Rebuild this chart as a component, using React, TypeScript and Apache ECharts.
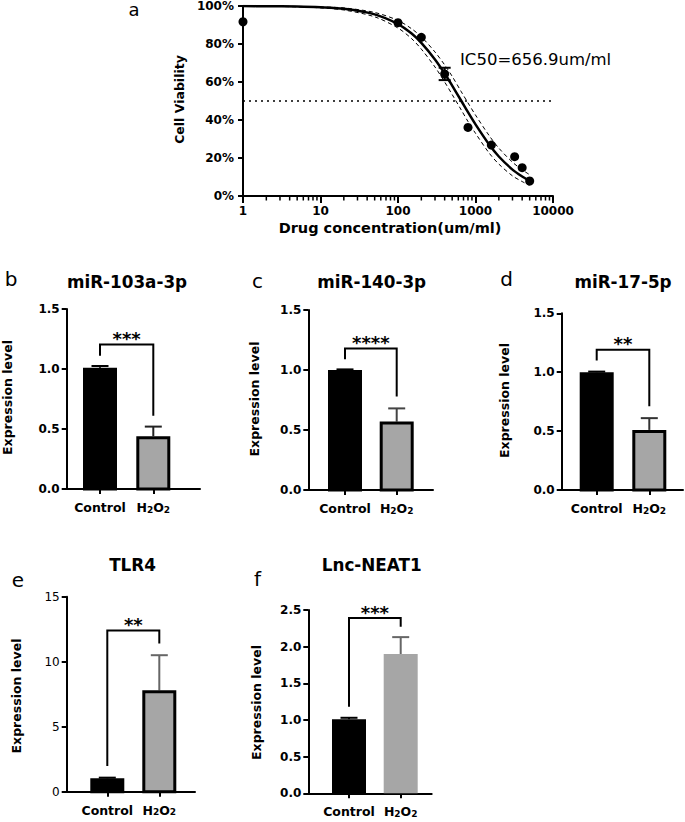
import React, { useEffect, useRef } from "react";
import * as echarts from "echarts";

const FONT = "'DejaVu Sans', 'Liberation Sans', Arial, sans-serif";

// ---------- Panel a: dose-response ----------
const doseX = [1, 100, 200, 400, 800, 1600, 3200, 4000, 5000];
const viability = [91.7, 91.2, 83.5, 64.2, 36.1, 26.8, 20.7, 14.9, 7.9];
const errDose = [400];
const errLow = [61];
const errHigh = [67.5];
const fitDose = [1, 2, 5, 10, 20, 50, 100, 150, 200, 300, 400, 500, 657, 800, 1000, 1500, 2000, 3000, 4000, 5000];
const fitViability = [99.96, 99.9, 99.7, 99.3, 98.5, 95.6, 90.5, 85.5, 80.6, 71.9, 64.5, 58.1, 50, 44.1, 37.7, 27.1, 20.8, 13.9, 10.3, 8.0];
const fitUpper = [100, 99.95, 99.8, 99.5, 99.0, 96.6, 92.4, 88.0, 83.8, 75.8, 69.0, 63.0, 54.8, 49.0, 42.6, 31.8, 25.2, 17.8, 13.8, 11.2];
const fitLower = [99.9, 99.85, 99.55, 99.0, 97.9, 94.3, 88.4, 82.8, 77.3, 67.9, 60.0, 53.4, 45.2, 39.2, 33.0, 22.6, 16.8, 10.6, 7.6, 5.6];
const minorTickDoses = [2, 3, 4, 5, 6, 7, 8, 9, 20, 30, 40, 50, 60, 70, 80, 90, 200, 300, 400, 500, 600, 700, 800, 900, 2000, 3000, 4000, 5000, 6000, 7000, 8000, 9000];
const halfViability = 50;
const ic50Label = "IC50=656.9um/ml";
const yTitleA = "Cell Viability";
const xTitleA = "Drug concentration(um/ml)";

// ---------- Bar panels ----------
const groups = ["Control", "H2O2"];
const panelLetters = ["a", "b", "c", "d", "e", "f"];
const panelTitles = ["miR-103a-3p", "miR-140-3p", "miR-17-5p", "TLR4", "Lnc-NEAT1"];
const yTitleBars = "Expression level";

const mir103Mean = [1.01, 0.44];
const mir103Err = [0.015, 0.08];
const mir140Mean = [1.0, 0.57];
const mir140Err = [0.005, 0.11];
const mir17Mean = [1.0, 0.51];
const mir17Err = [0.005, 0.1];
const tlr4Mean = [1.03, 7.8];
const tlr4Err = [0.05, 2.7];
const neat1Mean = [1.01, 1.9];
const neat1Err = [0.02, 0.23];

// significance: [bracket top, left leg bottom, right leg bottom]
const mir103Sig = [1.205, 1.11, 0.61];
const mir140Sig = [1.18, 1.09, 0.78];
const mir17Sig = [1.19, 1.1, 0.71];
const tlr4Sig = [12.4, 1.98, 11.4];
const neat1Sig = [2.39, 1.18, 2.27];
const sigStars = ["***", "****", "**", "**", "***"];

const yMaxBars = [1.5, 1.5, 1.5, 15, 2.5];
const yStepBars = [0.5, 0.5, 0.5, 5, 0.5];

const barMeans = [mir103Mean, mir140Mean, mir17Mean, tlr4Mean, neat1Mean];
const barErrs = [mir103Err, mir140Err, mir17Err, tlr4Err, neat1Err];
const barSigs = [mir103Sig, mir140Sig, mir17Sig, tlr4Sig, neat1Sig];

// ---------- layout / style (not data) ----------
const barLayout = [
  { left: 66.7, top: 309, width: 133.3, height: 180, t0: 100, t1: 153.3, h2o2Border: true, errColor: "#222", labelBold: true, yTitle: [7.5, 397.5], title: [127, 282], letter: [11, 279] },
  { left: 308.3, top: 310, width: 124.7, height: 180, t0: 345, t1: 396.7, h2o2Border: true, errColor: "#444", labelBold: true, yTitle: [254, 399], title: [371.7, 282], letter: [257.5, 281] },
  { left: 561.7, top: 313.3, width: 121.3, height: 176.7, t0: 596.7, t1: 649.3, h2o2Border: true, errColor: "#333", labelBold: true, yTitle: [504, 400.5], title: [623, 282], letter: [506.7, 279] },
  { left: 66.7, top: 596.7, width: 128.3, height: 195, t0: 107.3, t1: 159.3, h2o2Border: true, errColor: "#666", labelBold: false, yTitle: [16, 696], title: [132.5, 565], letter: [18, 579.5] },
  { left: 308.3, top: 610, width: 123.4, height: 183.3, t0: 349, t1: 400.7, h2o2Border: false, errColor: "#666", labelBold: true, yTitle: [256, 702.5], title: [371.7, 565], letter: [257.5, 579] },
];
const barFill = ["#000000", "#a6a6a6"];

function groupLabel(name: string) {
  return name
    .split("")
    .map((ch) => (/[0-9]/.test(ch) ? `{s|${ch}}` : `{n|${ch}}`))
    .join("");
}

function buildOption() {
  const grid: any[] = [{ left: 243, top: 6, width: 310, height: 190 }];
  const xAxis: any[] = [
    {
      gridIndex: 0,
      type: "log",
      logBase: 10,
      min: 1,
      max: 10000,
      axisLine: { lineStyle: { color: "#000", width: 2 } },
      axisTick: { length: 7, lineStyle: { color: "#000", width: 2 } },
      splitLine: { show: false },
      axisLabel: {
        color: "#000",
        fontFamily: FONT,
        fontWeight: "bold",
        fontSize: 12,
        margin: 9,
        formatter: (v: number) => String(Math.round(v)),
      },
    },
  ];
  const yAxis: any[] = [
    {
      gridIndex: 0,
      type: "value",
      min: 0,
      max: 100,
      interval: 20,
      axisLine: { show: true, lineStyle: { color: "#000", width: 2 } },
      axisTick: { show: true, length: 5, lineStyle: { color: "#000", width: 2 } },
      splitLine: { show: false },
      axisLabel: {
        color: "#000",
        fontFamily: FONT,
        fontWeight: "bold",
        fontSize: 12,
        margin: 9,
        formatter: "{value}%",
      },
    },
  ];
  const series: any[] = [];

  const pairs = (xs: number[], ys: number[]) => xs.map((x, i) => [x, ys[i]]);
  series.push({
    type: "line",
    xAxisIndex: 0,
    yAxisIndex: 0,
    data: pairs(fitDose, fitUpper),
    showSymbol: false,
    smooth: 0.3,
    lineStyle: { color: "#000", width: 1, type: [4, 3] },
    z: 2,
  });
  series.push({
    type: "line",
    xAxisIndex: 0,
    yAxisIndex: 0,
    data: pairs(fitDose, fitLower),
    showSymbol: false,
    smooth: 0.3,
    lineStyle: { color: "#000", width: 1, type: [4, 3] },
    z: 2,
  });
  series.push({
    type: "line",
    xAxisIndex: 0,
    yAxisIndex: 0,
    data: pairs(fitDose, fitViability),
    showSymbol: false,
    smooth: 0.3,
    lineStyle: { color: "#000", width: 2.5 },
    z: 3,
    markLine: {
      silent: true,
      symbol: "none",
      label: { show: false },
      lineStyle: { color: "#000", width: 1.5, type: [2, 4] },
      data: [{ yAxis: halfViability }],
    },
  });
  series.push({
    type: "scatter",
    xAxisIndex: 0,
    yAxisIndex: 0,
    data: pairs(doseX, viability),
    symbol: "circle",
    symbolSize: 9,
    itemStyle: { color: "#000", opacity: 1 },
    z: 4,
  });
  series.push({
    type: "custom",
    xAxisIndex: 0,
    yAxisIndex: 0,
    clip: false,
    data: errDose.map((d, i) => [d, errLow[i], errHigh[i]]),
    renderItem: (params: any, api: any) => {
      const lo = api.coord([api.value(0), api.value(1)]);
      const hi = api.coord([api.value(0), api.value(2)]);
      const st = { stroke: "#000", lineWidth: 2 };
      return {
        type: "group",
        children: [
          { type: "line", shape: { x1: lo[0], y1: lo[1], x2: hi[0], y2: hi[1] }, style: st },
          { type: "line", shape: { x1: hi[0] - 6, y1: hi[1], x2: hi[0] + 6, y2: hi[1] }, style: st },
          { type: "line", shape: { x1: lo[0] - 6, y1: lo[1], x2: lo[0] + 6, y2: lo[1] }, style: st },
        ],
      };
    },
    z: 5,
  });
  series.push({
    type: "custom",
    xAxisIndex: 0,
    yAxisIndex: 0,
    clip: false,
    data: minorTickDoses.map((d) => [d, 0]),
    renderItem: (params: any, api: any) => {
      const p = api.coord([api.value(0), api.value(1)]);
      return {
        type: "line",
        shape: { x1: p[0], y1: p[1], x2: p[0], y2: p[1] + 4.5 },
        style: { stroke: "#000", lineWidth: 1.5 },
      };
    },
    z: 5,
  });

  barLayout.forEach((L, k) => {
    const gi = k + 1;
    const span = L.t1 - L.t0;
    const xmin = -(L.t0 - L.left) / span;
    const xmax = (L.left + L.width - L.t0) / span;
    grid.push({ left: L.left, top: L.top, width: L.width, height: L.height });
    xAxis.push({
      gridIndex: gi,
      type: "value",
      min: xmin,
      max: xmax,
      splitLine: { show: false },
      axisLine: { onZero: false, lineStyle: { color: "#000", width: 2 } },
      axisTick: { customValues: [0, 1], length: 5, lineStyle: { color: "#000", width: 2 } },
      axisLabel: {
        customValues: [0, 1],
        margin: 9,
        color: "#000",
        formatter: (v: number) => groupLabel(groups[Math.round(v)] || ""),
        rich: {
          n: { fontFamily: FONT, fontWeight: "bold", fontSize: 12.5, color: "#000", lineHeight: 16, verticalAlign: "bottom" },
          s: { fontFamily: FONT, fontWeight: "bold", fontSize: 9, color: "#000", lineHeight: 8, verticalAlign: "bottom" },
        },
      },
    });
    const maxV = yMaxBars[k];
    const step = yStepBars[k];
    yAxis.push({
      gridIndex: gi,
      type: "value",
      min: 0,
      max: maxV,
      interval: step,
      splitLine: { show: false },
      axisLine: { show: true, onZero: false, lineStyle: { color: "#000", width: 2 } },
      axisTick: { show: true, length: 5, lineStyle: { color: "#000", width: 2 } },
      axisLabel: {
        color: "#000",
        fontFamily: FONT,
        fontWeight: L.labelBold ? "bold" : "normal",
        fontSize: 12,
        margin: 7,
        formatter: (v: number) => (step < 1 ? v.toFixed(1) : String(v)),
      },
    });

    const means = barMeans[k];
    const errs = barErrs[k];
    series.push({
      type: "custom",
      xAxisIndex: gi,
      yAxisIndex: gi,
      clip: false,
      data: means.map((m, i) => [i, m, errs[i]]),
      renderItem: (params: any, api: any) => {
        const i = params.dataIndex;
        const x = api.value(0);
        const m = api.value(1);
        const e = api.value(2);
        const base = api.coord([x, 0]);
        const top = api.coord([x, m]);
        const et = api.coord([x, m + e]);
        const hw = 17;
        const errColor = i === 0 ? "#000" : L.errColor;
        const bordered = i === 0 || L.h2o2Border;
        const children: any[] = [
          { type: "line", shape: { x1: top[0], y1: top[1], x2: et[0], y2: et[1] }, style: { stroke: errColor, lineWidth: 2 } },
          { type: "line", shape: { x1: et[0] - 8.5, y1: et[1], x2: et[0] + 8.5, y2: et[1] }, style: { stroke: errColor, lineWidth: 2 } },
        ];
        if (bordered) {
          children.push({
            type: "rect",
            shape: { x: base[0] - hw + 1.5, y: top[1] + 1.5, width: 2 * hw - 3, height: base[1] - top[1] - 1.5 },
            style: { fill: barFill[i], stroke: "#000", lineWidth: 3 },
          });
        } else {
          children.push({
            type: "rect",
            shape: { x: base[0] - hw, y: top[1], width: 2 * hw, height: base[1] - top[1] },
            style: { fill: barFill[i] },
          });
        }
        return { type: "group", children };
      },
      z: 3,
    });

    const sig = barSigs[k];
    series.push({
      type: "custom",
      xAxisIndex: gi,
      yAxisIndex: gi,
      clip: false,
      data: [[0.5, sig[0], sig[1], sig[2]]],
      renderItem: (params: any, api: any) => {
        const topV = api.value(1);
        const a = api.coord([0, api.value(2)]);
        const b = api.coord([0, topV]);
        const c = api.coord([1, topV]);
        const d = api.coord([1, api.value(3)]);
        return {
          type: "group",
          children: [
            {
              type: "polyline",
              shape: { points: [a, b, c, d] },
              style: { stroke: "#000", lineWidth: 2, fill: "none" },
            },
            {
              type: "text",
              x: (b[0] + c[0]) / 2,
              y: b[1] + 3,
              style: {
                text: sigStars[k],
                fill: "#000",
                font: `bold 18px ${FONT}`,
                align: "center",
                verticalAlign: "bottom",
              },
            },
          ],
        };
      },
      z: 4,
    });
  });

  const graphic: any[] = [];
  const txt = (text: string, x: number, y: number, size: number, bold: boolean, extra: any = {}) => ({
    type: "text",
    x,
    y,
    ...extra,
    style: {
      text,
      fill: "#000",
      font: `${bold ? "bold " : ""}${size}px ${FONT}`,
      align: extra.align || "center",
      verticalAlign: extra.valign || "middle",
    },
  });
  graphic.push(txt(panelLetters[0], 134, 0, 18, false, { valign: "top" }));
  graphic.push(txt(ic50Label, 460, 59, 16.5, false, { align: "left" }));
  graphic.push({ ...txt(yTitleA, 179, 99.5, 12.5, true), rotation: Math.PI / 2 });
  graphic.push(txt(xTitleA, 390, 228, 14.5, true));
  barLayout.forEach((L, k) => {
    graphic.push(txt(panelLetters[k + 1], L.letter[0], L.letter[1], 20, false));
    graphic.push(txt(panelTitles[k], L.title[0], L.title[1], 16.8, true));
    graphic.push({ ...txt(yTitleBars, L.yTitle[0], L.yTitle[1], 12.5, true), rotation: Math.PI / 2 });
  });

  return {
    animation: false,
    backgroundColor: "#fff",
    textStyle: { fontFamily: FONT },
    grid,
    xAxis,
    yAxis,
    series,
    graphic,
  };
}

export default function App() {
  const ref = useRef<HTMLDivElement>(null);
  useEffect(() => {
    if (!ref.current) return;
    const chart = echarts.init(ref.current, undefined, { renderer: "svg" });
    chart.setOption(buildOption() as any);
    return () => chart.dispose();
  }, []);
  return (
    <div
      ref={ref}
      style={{ position: "fixed", left: 0, top: 0, width: 685, height: 822, background: "#fff" }}
    />
  );
}
